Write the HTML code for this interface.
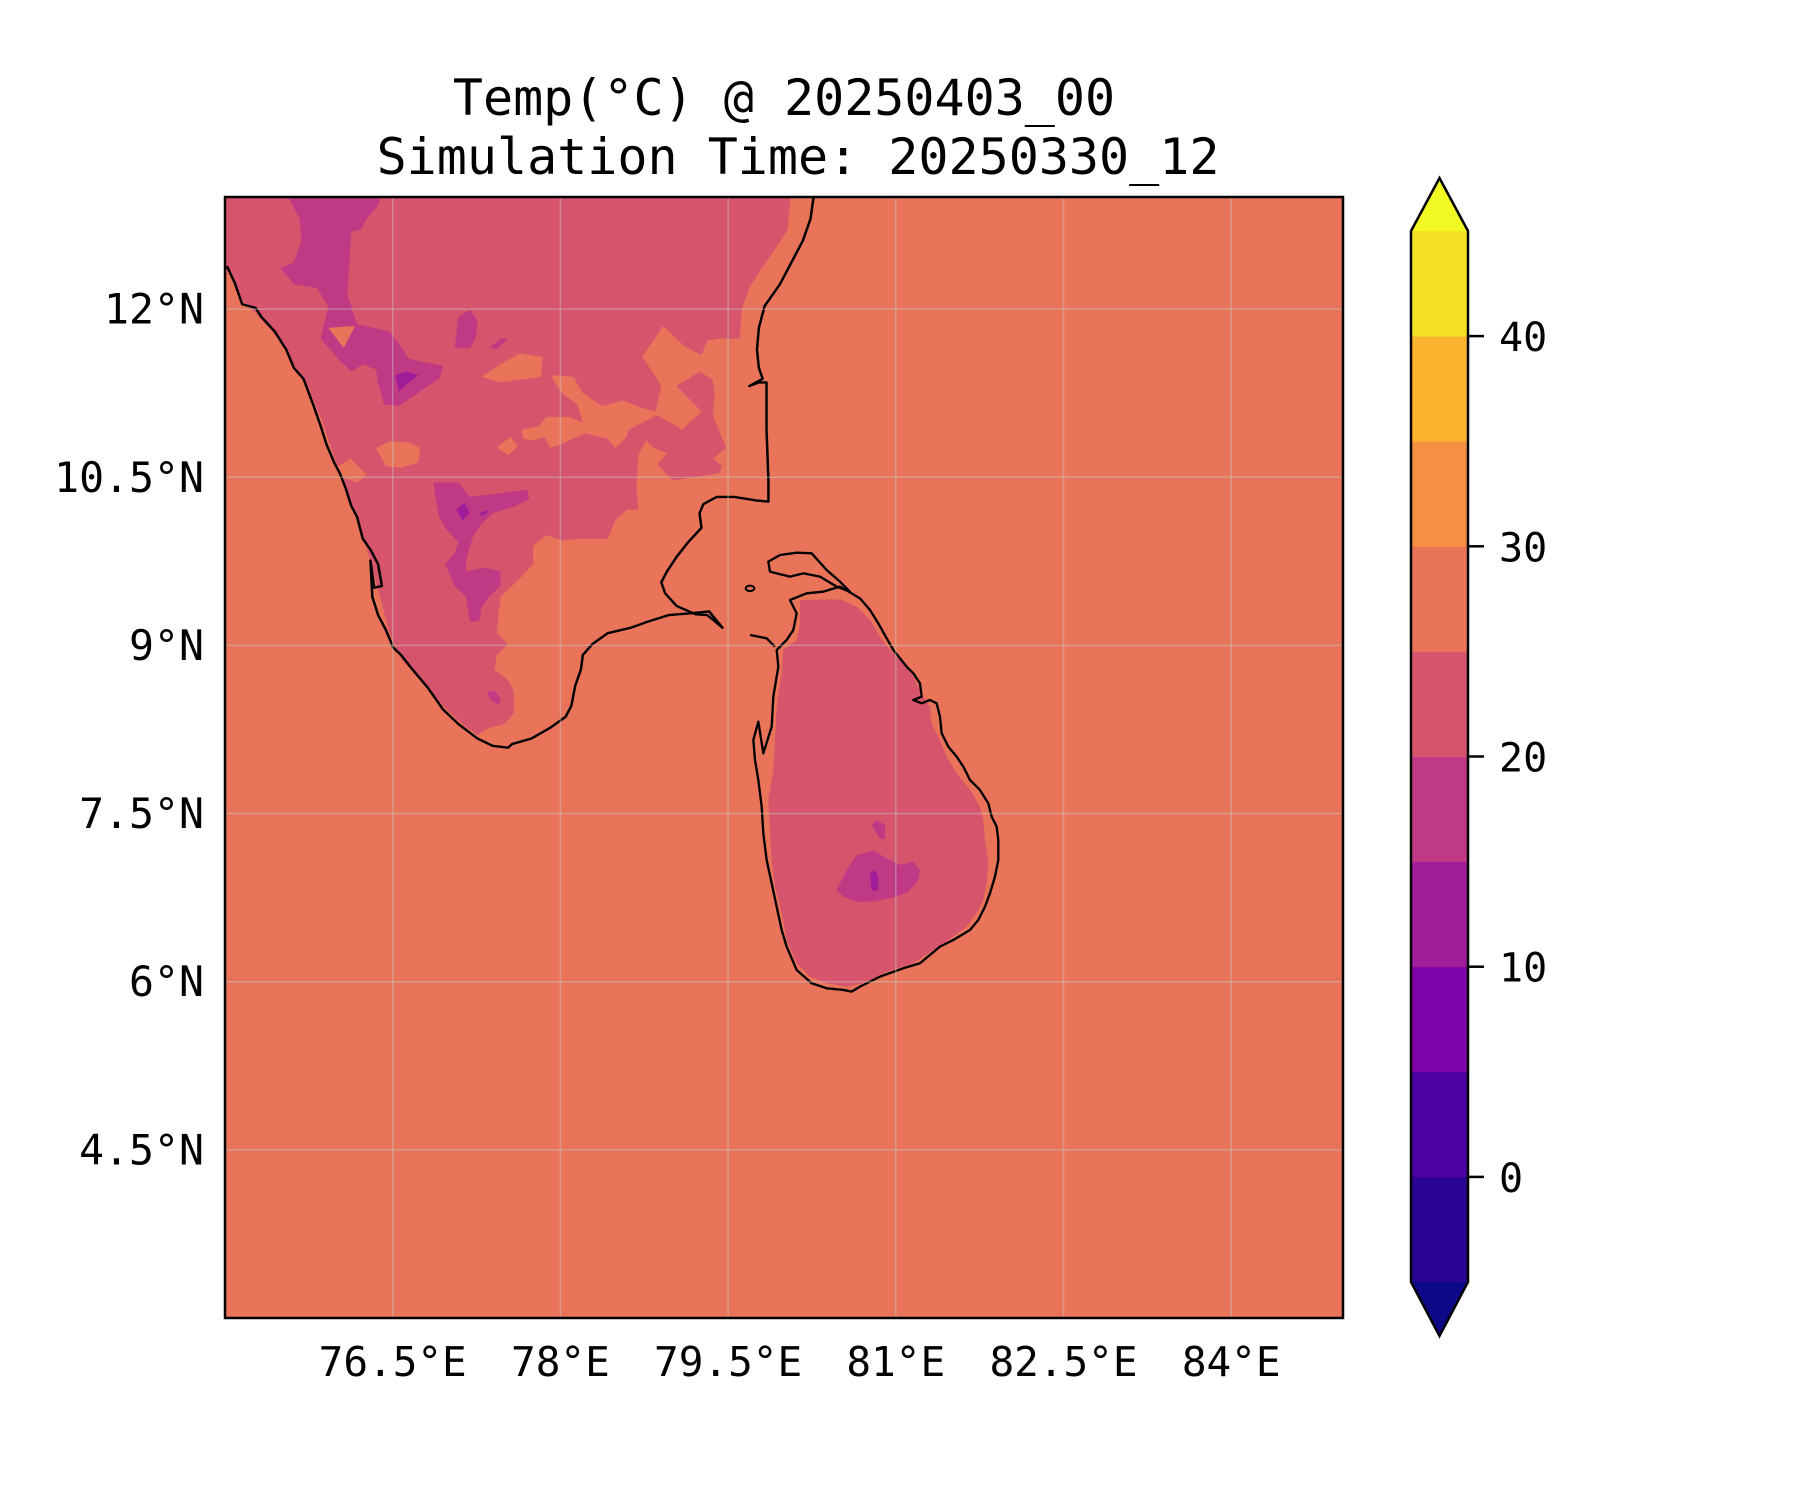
<!DOCTYPE html>
<html><head><meta charset="utf-8">
<style>
html,body{margin:0;padding:0;background:#fff;}
svg{display:block;font-family:"DejaVu Sans Mono","Liberation Mono",monospace;}
</style></head>
<body>
<svg id="fig" width="1800" height="1500" viewBox="0 0 1800 1500" xmlns="http://www.w3.org/2000/svg">
<text x="784" y="98" font-size="50" text-anchor="middle" dominant-baseline="central">Temp(°C) @ 20250403_00</text>
<text x="798" y="157" font-size="50" text-anchor="middle" dominant-baseline="central">Simulation Time: 20250330_12</text>
<defs><clipPath id="mapclip"><rect x="225" y="197" width="1118" height="1121"/></clipPath></defs>
<g clip-path="url(#mapclip)">
<rect x="225" y="197" width="1118" height="1121" fill="#e97459"/>
<g transform="translate(225,197) scale(0.3827,0.3635)">
<polygon fill="#d6546c" points="0,0 1478,0 1470,90 1440,140 1400,200 1370,250 1350,310 1345,390 1290,390 1260,410 1270,480 1280,540 1275,600 1290,640 1310,690 1275,720 1300,740 1290,760 1170,780 1130,735 1155,705 1120,690 1100,670 1080,710 1075,800 1080,860 1050,860 1020,890 1000,940 930,940 880,945 840,930 805,960 805,1010 770,1050 720,1100 710,1200 740,1230 710,1260 705,1300 740,1330 755,1360 755,1420 730,1450 690,1460 660,1480 620,1450 570,1400 510,1330 460,1270 430,1200 405,1100 380,1000 350,900 310,790 280,700 255,620 220,530 180,460 140,390 80,320 40,280 10,210 0,190"/>
<g fill="#e97459">
<polygon points="1090,440 1145,355 1200,410 1245,435 1260,395 1300,388 1280,480 1270,500 1240,480 1180,520 1245,590 1195,640 1130,600 1055,640 1050,660 1020,690 1000,665 940,650 880,680 850,690 835,660 805,670 780,665 775,640 820,630 840,605 900,605 935,620 920,570 880,540 850,490 910,495 935,540 985,575 1040,560 1090,580 1125,590 1140,520 1120,485"/>
<polygon points="670,495 720,460 770,430 830,440 825,495 790,500 720,510"/>
<polygon points="395,690 430,672 480,675 510,690 505,730 460,745 420,740"/>
<polygon points="295,740 330,720 370,765 345,785 300,770"/>
<polygon points="710,690 745,660 765,685 740,710"/>
</g>
<g fill="#bf3984">
<polygon points="165,0 410,0 395,30 370,60 355,90 330,95 325,180 320,270 330,300 345,350 430,370 460,410 480,445 570,465 560,500 510,535 455,575 415,570 400,510 395,475 360,460 330,480 300,450 250,390 270,300 240,250 180,240 145,195 180,180 200,120 195,60"/>
<polygon points="610,330 640,310 660,340 655,390 640,415 600,415"/>
<polygon points="690,415 720,390 740,390 710,418"/>
<polygon points="545,785 610,785 640,825 720,815 790,805 795,830 760,850 700,870 670,900 650,930 640,960 630,1000 630,1030 680,1020 720,1030 720,1070 690,1100 670,1130 665,1165 640,1170 630,1100 600,1070 575,1010 600,980 610,950 575,910 560,880 550,830"/>
<polygon points="685,1360 705,1360 720,1380 715,1395 695,1385"/>
</g>
<polygon fill="#e97459" points="270,360 340,355 310,415"/>
<g fill="#a01d9a">
<polygon points="445,490 475,480 505,490 470,520 455,535"/>
<polygon points="605,860 625,840 640,870 620,890"/>
<polygon points="665,870 690,860 685,870 670,878"/>
</g>
<polyline fill="none" stroke="#000" stroke-width="6.5" stroke-linejoin="round" points="5,190 25,235 45,295 80,305 95,330 130,370 160,420 180,470 205,500 230,570 250,630 265,680 285,730 300,760 315,800 330,850 345,880 360,940 380,970 400,1010 410,1070 390,1075 380,1000 385,1100 400,1150 420,1190 440,1240 460,1260 490,1300 530,1350 570,1410 610,1450 660,1490 700,1510 740,1515 750,1505 800,1490 850,1460 890,1430 905,1400 915,1345 930,1300 935,1260 960,1230 1000,1200 1060,1185 1100,1170 1160,1150 1220,1145 1265,1140 1300,1185 1260,1150 1230,1148 1180,1125 1150,1090 1140,1060 1155,1030 1180,990 1210,950 1245,910 1240,870 1250,845 1285,825 1330,825 1390,835 1420,838 1420,780 1415,640 1415,510 1395,510 1370,520 1405,500 1395,470 1390,420 1395,360 1410,300 1450,240 1480,180 1510,120 1530,60 1538,0"/>
</g>
<g transform="translate(740,540) scale(0.3333)">
<polygon fill="#d6546c" points="180,180 300,178 350,200 390,240 420,290 450,330 490,370 520,410 550,470 570,500 575,550 600,600 620,650 650,700 690,750 720,800 730,840 735,900 745,960 740,1030 730,1080 710,1120 680,1160 640,1190 580,1230 520,1270 440,1295 370,1330 320,1340 260,1330 210,1310 170,1270 140,1200 125,1120 105,1040 95,960 90,880 85,780 100,690 105,600 110,500 125,400 130,330 170,300 180,250"/>
<polygon fill="#bf3984" points="290,1050 320,990 350,945 400,932 440,955 480,975 520,965 540,990 535,1020 505,1055 470,1070 400,1085 350,1085 310,1070"/>
<polygon fill="#bf3984" points="395,855 410,840 435,855 435,895 420,898"/>
<polygon fill="#a01d9a" points="390,1000 405,990 415,1010 415,1050 395,1052"/>
<polygon fill="none" stroke="#000" stroke-width="7" stroke-linejoin="round" points="150,180 200,160 250,155 300,140 335,160 360,175 390,210 415,250 440,295 460,330 480,355 500,380 520,400 540,430 545,470 520,480 545,490 570,480 590,490 600,530 605,580 625,620 650,650 670,680 690,720 720,750 745,790 755,830 770,860 775,900 775,960 765,1010 750,1060 735,1100 715,1140 690,1170 640,1200 600,1220 540,1270 490,1285 420,1310 360,1340 335,1355 310,1350 260,1345 215,1330 170,1290 140,1220 125,1170 110,1100 95,1030 80,960 70,880 65,800 55,720 45,660 40,600 55,545 70,640 95,560 100,470 115,380 110,330 140,300 160,270 170,220"/>
<polygon fill="none" stroke="#000" stroke-width="7" stroke-linejoin="round" points="85,65 120,45 170,38 215,40 260,90 300,125 330,155 290,140 240,110 190,100 150,110 110,100 90,95"/>
<ellipse cx="30" cy="145" rx="13" ry="8" fill="none" stroke="#000" stroke-width="6"/>
<polyline points="30,285 80,295 105,320" fill="none" stroke="#000" stroke-width="7"/>
</g>
<g id="grid"></g>
</g>
<rect x="225" y="197" width="1118" height="1121" fill="none" stroke="#000" stroke-width="2.5"/>
<g id="axes"></g>
<g id="cbar"></g>
</svg>
<script>
const lonTicks = [76.5, 78, 79.5, 81, 82.5, 84];
const lonLabels = ["76.5°E", "78°E", "79.5°E", "81°E", "82.5°E", "84°E"];
const latTicks = [12, 10.5, 9, 7.5, 6, 4.5];
const latLabels = ["12°N", "10.5°N", "9°N", "7.5°N", "6°N", "4.5°N"];
const cbarLevels = [-5, 0, 5, 10, 15, 20, 25, 30, 35, 40, 45];
const cbarColors = ["#2a0593", "#4c02a1", "#7e03a8", "#a01d9a", "#bf3984", "#d6546c", "#e97459", "#f48f44", "#fdb32f", "#f5e026"];
const cbarTicks = [0, 10, 20, 30, 40];
const NS = "http://www.w3.org/2000/svg";
const lonMin = 75, lonMax = 85, latMin = 3, latMax = 13;
const mx0 = 225, mx1 = 1343, my0 = 197, my1 = 1318;
function xLon(l){ return mx0 + (l - lonMin) / (lonMax - lonMin) * (mx1 - mx0); }
function yLat(l){ return my0 + (latMax - l) / (latMax - latMin) * (my1 - my0); }
const cb = {x0:1411, x1:1468, y0:231, y1:1282};
function yC(v){ return cb.y1 - (v - cbarLevels[0]) / (cbarLevels[cbarLevels.length-1] - cbarLevels[0]) * (cb.y1 - cb.y0); }
function mk(tag, attrs, parent){ const e = document.createElementNS(NS, tag); for (const k in attrs) e.setAttribute(k, attrs[k]); parent.appendChild(e); return e; }
const grid = document.getElementById('grid');
const axes = document.getElementById('axes');
lonTicks.forEach((l, i) => {
  const g = mk('line', {x1:xLon(l), x2:xLon(l), y1:my0, y2:my1, stroke:'rgba(200,200,200,0.45)', 'stroke-width':1.5}, grid);
  
  
  const t = mk('text', {x:xLon(l), y:1362, 'font-size':41, 'text-anchor':'middle', 'dominant-baseline':'central'}, axes);
  t.textContent = lonLabels[i];
  
  
});
latTicks.forEach((l, i) => {
  const g = mk('line', {x1:mx0, x2:mx1, y1:yLat(l), y2:yLat(l), stroke:'rgba(200,200,200,0.45)', 'stroke-width':1.5}, grid);
  
  
  const t = mk('text', {x:204, y:yLat(l), 'font-size':41.5, 'text-anchor':'end', 'dominant-baseline':'central'}, axes);
  t.textContent = latLabels[i];
  
  
});
const cbar = document.getElementById('cbar');
for (let i = 0; i < cbarColors.length; i++) {
  const yTop = yC(cbarLevels[i+1]), yBot = yC(cbarLevels[i]);
  const r = mk('rect', {x:cb.x0, y:yTop, width:cb.x1-cb.x0, height:yBot-yTop+0.5, fill:cbarColors[i]}, cbar);
  
  
}
const cxm = (cb.x0 + cb.x1) / 2;
const over = mk('polygon', {points:`${cb.x0},${cb.y0} ${cxm},178 ${cb.x1},${cb.y0}`, fill:'#f0f921'}, cbar);


const under = mk('polygon', {points:`${cb.x0},${cb.y1} ${cxm},1336 ${cb.x1},${cb.y1}`, fill:'#0d0887'}, cbar);


const outline = mk('polygon', {points:`${cb.x0},${cb.y0} ${cxm},178 ${cb.x1},${cb.y0} ${cb.x1},${cb.y1} ${cxm},1336 ${cb.x0},${cb.y1}`, fill:'none', stroke:'#000', 'stroke-width':2.5}, cbar);


cbarTicks.forEach(v => {
  const tl = mk('line', {x1:cb.x1, x2:cb.x1+16, y1:yC(v), y2:yC(v), stroke:'#000', 'stroke-width':2.5}, cbar);
  
  
  const t = mk('text', {x:1499, y:yC(v)+2, 'font-size':40, 'dominant-baseline':'central'}, cbar);
  t.textContent = String(v);
  
  
});
</script>
</body></html>
